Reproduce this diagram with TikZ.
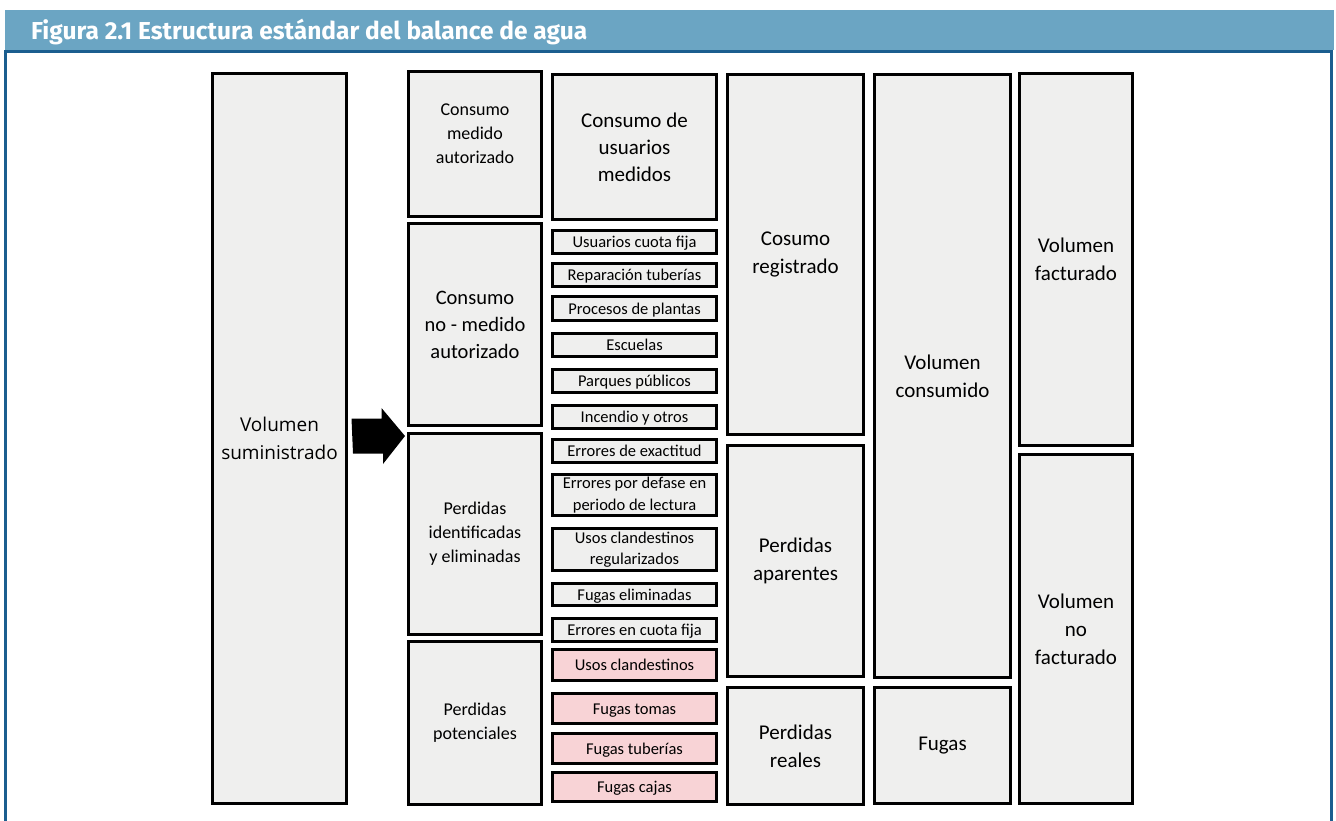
\documentclass[tikz,border=0pt]{standalone}
\usepackage{fontspec}
\setmainfont{Carlito}
\newfontfamily\titlefont{Fira Sans}
\newfontfamily\opensans{Open Sans}
\definecolor{boxfill}{HTML}{EFEFEE}
\definecolor{pinkfill}{HTML}{F8D3D6}
\definecolor{headerblue}{HTML}{6BA5C3}
\definecolor{frameblue}{HTML}{1B5E8F}
\definecolor{textblack}{HTML}{000000}
\begin{document}
\begin{tikzpicture}[x=1pt,y=-1pt,
  box/.style={draw=black, line width=3.2pt, fill=boxfill, inner sep=0pt, outer sep=0pt, align=center, text=textblack},
  bigtxt/.style={font=\fontsize{21}{28}\selectfont},
  midtxt/.style={font=\fontsize{18}{24}\selectfont},
  smalltxt/.style={font=\fontsize{16.5}{21.5}\selectfont},
  oneline/.style={text height=11pt, text depth=0pt},
  pinkbox/.style={fill=pinkfill, line width=3.5pt}
]
\useasboundingbox (0,0) rectangle (1336,820);
% header
\fill[headerblue] (5,10) rectangle (1334,49.5);
\node[anchor=base west, text=white, inner sep=0pt, font=\titlefont\bfseries\fontsize{24.5}{28}\selectfont] (title) at (31,39.5) {Figura 2.1 Estructura estándar del balance de agua};
\draw[frameblue, line width=3pt] (5.5,825) -- (5.5,51.5) -- (1331.5,51.5) -- (1331.5,825);

% column 1
\node[box, minimum width=134pt, minimum height=730pt, font=\opensans\fontsize{19}{28}\selectfont] (vs) at (279.5,438.5) {Volumen\\suministrado};

% column 2
\node[box, minimum width=133pt, minimum height=145pt,
      label={[midtxt, align=center, text=textblack, yshift=10pt]center:Consumo\\medido\\autorizado}] (cma) at (475,144) {};
\node[box, font=\fontsize{20.5}{27}\selectfont, minimum width=133pt, minimum height=202pt] (cnma) at (475,324.5) {Consumo\\no - medido\\autorizado};
\node[box, midtxt, minimum width=133pt, minimum height=201pt] (pie) at (475,534) {Perdidas\\identificadas\\y eliminadas};
\node[box, midtxt, minimum width=133pt, minimum height=163pt] (pp) at (475,723) {Perdidas\\potenciales};

% arrow
\coordinate (arrS) at ([xshift=5pt,yshift=2.5pt]vs.east);
\coordinate (arrtip) at (405,436);
\fill[black] (arrS) ++(0,-17.5) -- ++(30,0) -- ++(0,-10.5) -- (arrtip) -- ++(-22,28) -- ++(0,-10.5) -- ++(-30,0) -- cycle;

% column 3
\node[box, font=\fontsize{21}{27}\selectfont, minimum width=164pt, minimum height=145pt] (cum) at (634.5,147) {Consumo de\\usuarios\\medidos};
\node[box, smalltxt, oneline, minimum width=164pt, minimum height=23pt] (ucf) at (634.5,242) {Usuarios cuota fija};
\node[box, smalltxt, oneline, minimum width=164pt, minimum height=23pt] (rt) at (634.5,275) {Reparación tuberías};
\node[box, smalltxt, oneline, minimum width=164pt, minimum height=24pt] (pdp) at (634.5,308.5) {Procesos de plantas};
\node[box, smalltxt, oneline, minimum width=164pt, minimum height=23pt] (esc) at (634.5,345) {Escuelas};
\node[box, smalltxt, oneline, minimum width=164pt, minimum height=23pt] (pq) at (634.5,381) {Parques públicos};
\node[box, smalltxt, oneline, minimum width=164pt, minimum height=23pt] (ino) at (634.5,417) {Incendio y otros};
\node[box, smalltxt, oneline, minimum width=164pt, minimum height=23pt] (ede) at (634.5,451) {Errores de exactitud};
\node[box, smalltxt, minimum width=164pt, minimum height=41pt] (epd) at (634.5,495) {Errores por defase en\\periodo de lectura};
\node[box, smalltxt, minimum width=164pt, minimum height=42pt] (ucr) at (634.5,549.5) {Usos clandestinos\\regularizados};
\node[box, smalltxt, oneline, minimum width=164pt, minimum height=22pt] (fe) at (634.5,594.5) {Fugas eliminadas};
\node[box, smalltxt, oneline, minimum width=164pt, minimum height=23pt] (ecf) at (634.5,630) {Errores en cuota fija};
\node[box, pinkbox, smalltxt, oneline, minimum width=164pt, minimum height=31pt] (uc) at (634.5,665) {Usos clandestinos};
\node[box, pinkbox, smalltxt, oneline, minimum width=164pt, minimum height=30pt] (ft) at (634.5,708.5) {Fugas tomas};
\node[box, pinkbox, smalltxt, oneline, minimum width=164pt, minimum height=30pt] (ftu) at (634.5,748.5) {Fugas tuberías};
\node[box, pinkbox, smalltxt, oneline, minimum width=164pt, minimum height=29pt] (fc) at (634.5,787) {Fugas cajas};

% column 4
\node[box, bigtxt, minimum width=136pt, minimum height=360pt] (cr) at (795.5,254.5) {Cosumo\\registrado};
\node[box, bigtxt, minimum width=136pt, minimum height=231pt] (pa) at (795.5,561) {Perdidas\\aparentes};
\node[box, bigtxt, minimum width=136pt, minimum height=117pt] (pr) at (795.5,746) {Perdidas\\reales};

% column 5
\node[box, bigtxt, minimum width=136pt, minimum height=603pt] (vc) at (942.5,376) {Volumen\\consumido};
\node[box, bigtxt, minimum width=136pt, minimum height=116pt] (fug) at (942.5,745.5) {Fugas};

% column 6
\node[box, bigtxt, minimum width=113pt, minimum height=372pt] (vf) at (1076,259.5) {Volumen\\facturado};
\node[box, bigtxt, minimum width=113pt, minimum height=349pt] (vnf) at (1076,629) {Volumen\\no\\facturado};
\end{tikzpicture}
\end{document}
